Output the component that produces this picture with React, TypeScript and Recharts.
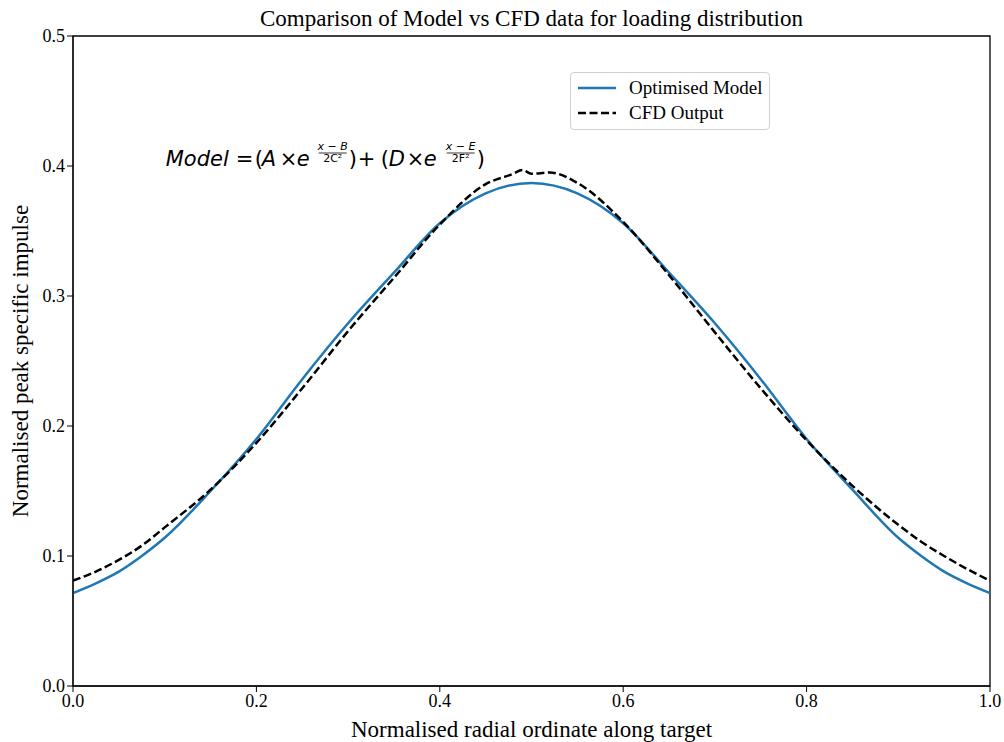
import React from 'react';
import { LineChart, Line, XAxis, YAxis, ReferenceArea, ReferenceDot } from 'recharts';

// values
const modelX = [0, 0.025, 0.05, 0.075, 0.1, 0.15, 0.2, 0.25, 0.3, 0.35, 0.4, 0.45, 0.5, 0.55, 0.6, 0.65, 0.7, 0.75, 0.8, 0.85, 0.9, 0.925, 0.95, 0.975, 1];
const modelY = [0.0715, 0.079, 0.088, 0.1, 0.114, 0.150, 0.190, 0.236, 0.279, 0.318, 0.356, 0.379, 0.387, 0.379, 0.356, 0.318, 0.279, 0.236, 0.190, 0.151, 0.114, 0.1, 0.088, 0.079, 0.0715];

const cfdX = [0, 0.025, 0.05, 0.075, 0.1, 0.15, 0.2, 0.25, 0.3, 0.35, 0.4, 0.45, 0.48, 0.49, 0.5, 0.52, 0.55, 0.6, 0.65, 0.7, 0.75, 0.8, 0.85, 0.9, 0.925, 0.95, 0.975, 1];
const cfdY = [0.081, 0.088, 0.097, 0.108, 0.122, 0.151, 0.187, 0.229, 0.273, 0.314, 0.355, 0.386, 0.394, 0.397, 0.394, 0.395, 0.387, 0.357, 0.316, 0.272, 0.229, 0.189, 0.154, 0.124, 0.111, 0.100, 0.09, 0.081];

const xTicks = [0, 0.2, 0.4, 0.6, 0.8, 1.0];
const yTicks = [0, 0.1, 0.2, 0.3, 0.4, 0.5];

const seriesNames = ['Optimised Model', 'CFD Output'];
const seriesColors = ['#1f77b4', '#000000'];
const seriesDash = ['', '8 3.5'];

const modelData = modelX.map((x, i) => ({ x, y: modelY[i] }));
const cfdData = cfdX.map((x, i) => ({ x, y: cfdY[i] }));

const SERIF = '"Liberation Serif", "Times New Roman", serif';
const SANS = '"DejaVu Sans", sans-serif';

const FormulaLabel = ({ viewBox }: any) => {
  const x0 = viewBox.x + (viewBox.width || 0) / 2;
  const y0 = viewBox.y + (viewBox.height || 0) / 2;
  const big = { fontFamily: SANS, fontSize: 21, fill: '#000' };
  const small = { fontFamily: SANS, fontSize: 11, fill: '#000', fontStyle: 'italic' as const, textAnchor: 'middle' as const };
  return (
    <g>
      <text x={x0 + 1} y={y0} {...big} fontStyle="italic">Model</text>
      <text x={x0 + 71} y={y0} {...big}>=</text>
      <text x={x0 + 90} y={y0} {...big}>(</text>
      <text x={x0 + 97} y={y0} {...big} fontStyle="italic">A</text>
      <text x={x0 + 115} y={y0} {...big}>×</text>
      <text x={x0 + 132} y={y0} {...big} fontStyle="italic">e</text>
      <text x={x0 + 168} y={y0 - 16} {...small}>x − B</text>
      <line x1={x0 + 154} x2={x0 + 182} y1={y0 - 13} y2={y0 - 13} stroke="#000" strokeWidth={0.8} />
      <text x={x0 + 168} y={y0 - 4} {...small} fontStyle="normal">2C²</text>
      <text x={x0 + 184} y={y0} {...big}>)</text>
      <text x={x0 + 193} y={y0} {...big}>+</text>
      <text x={x0 + 216} y={y0} {...big}>(</text>
      <text x={x0 + 224} y={y0} {...big} fontStyle="italic">D</text>
      <text x={x0 + 242} y={y0} {...big}>×</text>
      <text x={x0 + 259} y={y0} {...big} fontStyle="italic">e</text>
      <text x={x0 + 296} y={y0 - 16} {...small}>x − E</text>
      <line x1={x0 + 282} x2={x0 + 310} y1={y0 - 13} y2={y0 - 13} stroke="#000" strokeWidth={0.8} />
      <text x={x0 + 296} y={y0 - 4} {...small} fontStyle="normal">2F²</text>
      <text x={x0 + 312} y={y0} {...big}>)</text>
    </g>
  );
};

const LegendBox = () => (
  <div
    style={{
      position: 'absolute',
      left: 570,
      top: 72,
      width: 200,
      height: 58,
      border: '1px solid #d0d0d0',
      borderRadius: 4,
      background: 'rgba(255,255,255,0.8)',
      fontFamily: SERIF,
      fontSize: 19,
      boxSizing: 'border-box',
      padding: '2px 0 0 6px',
    }}
  >
    {seriesNames.map((name, i) => (
      <div key={name} style={{ display: 'flex', alignItems: 'center', height: 25 }}>
        <svg width={40} height={10} style={{ marginRight: 12 }}>
          <line x1={1} x2={39} y1={5} y2={5} stroke={seriesColors[i]} strokeWidth={2.5} strokeDasharray={seriesDash[i]} />
        </svg>
        <span>{name}</span>
      </div>
    ))}
  </div>
);

const App: React.FC = () => {
  return (
    <div style={{ position: 'absolute', left: 0, top: 0, width: 1004, height: 742, background: '#fff' }}>
      <div
        style={{
          position: 'absolute',
          left: 73,
          width: 917,
          top: 6,
          textAlign: 'center',
          fontFamily: SERIF,
          fontSize: 23,
          lineHeight: '26px',
        }}
      >
        Comparison of Model vs CFD data for loading distribution
      </div>
      <LineChart width={1004} height={742} margin={{ top: 36, right: 14, bottom: 0, left: 0 }}>
        <XAxis
          dataKey="x"
          type="number"
          domain={[0, 1]}
          ticks={xTicks}
          tickFormatter={(v: number) => v.toFixed(1)}
          height={56}
          stroke="#000"
          tickSize={6}
          tick={{ fill: '#000', fontFamily: SERIF, fontSize: 18 }}
          allowDataOverflow
          label={({ viewBox }: any) => (
            <text
              x={viewBox.x + viewBox.width / 2}
              y={viewBox.y + 51}
              textAnchor="middle"
              fontFamily={SERIF}
              fontSize={23}
              fill="#000"
            >
              Normalised radial ordinate along target
            </text>
          )}
        />
        <YAxis
          dataKey="y"
          type="number"
          domain={[0, 0.5]}
          ticks={yTicks}
          tickFormatter={(v: number) => v.toFixed(1)}
          width={73}
          stroke="#000"
          tickSize={6}
          tick={{ fill: '#000', fontFamily: SERIF, fontSize: 18 }}
          allowDataOverflow
          label={({ viewBox }: any) => (
            <text
              x={viewBox.x + 28}
              y={viewBox.y + viewBox.height / 2}
              textAnchor="middle"
              fontFamily={SERIF}
              fontSize={23}
              fill="#000"
              transform={`rotate(-90, ${viewBox.x + 28}, ${viewBox.y + viewBox.height / 2})`}
            >
              Normalised peak specific impulse
            </text>
          )}
        />
        <ReferenceArea x1={0} x2={1} y1={0} y2={0.5} fill="none" stroke="#000" strokeWidth={1.3} fillOpacity={0} />
        <ReferenceDot x={0.1} y={0.4} r={0} fill="none" stroke="none" label={<FormulaLabel />} />
        <Line
          data={modelData}
          dataKey="y"
          name={seriesNames[0]}
          type="monotone"
          stroke={seriesColors[0]}
          strokeWidth={2.5}
          dot={false}
          activeDot={false}
          isAnimationActive={false}
        />
        <Line
          data={cfdData}
          dataKey="y"
          name={seriesNames[1]}
          type="monotone"
          stroke={seriesColors[1]}
          strokeWidth={2.5}
          strokeDasharray={seriesDash[1]}
          dot={false}
          activeDot={false}
          isAnimationActive={false}
        />
      </LineChart>
      <LegendBox />
    </div>
  );
};

export default App;
